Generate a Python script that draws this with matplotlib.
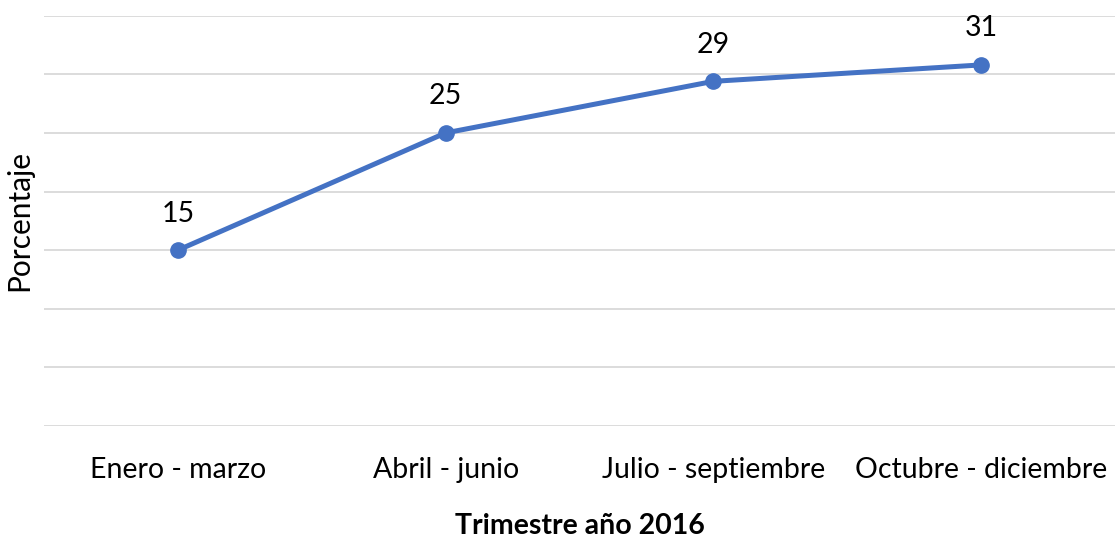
import matplotlib
matplotlib.use("Agg")
import matplotlib.pyplot as plt

# data
trimestres = ["Enero - marzo", "Abril - junio", "Julio - septiembre", "Octubre - diciembre"]
porcentaje = [15, 25, 29.4, 30.8]
y_ticks = [0, 5, 10, 15, 20, 25, 30, 35]

plt.rcParams["font.family"] = ["Lato", "DejaVu Sans"]

fig = plt.figure(figsize=(11.15, 5.37), dpi=100)
ax = fig.add_axes([0.0395, 0.2067, 0.9605, 0.7641])

x = range(len(trimestres))
ax.plot(x, porcentaje, color="#4472C4", linewidth=3.6, marker="o",
        markersize=11, solid_capstyle="round", zorder=3)

for xi, v in zip(x, porcentaje):
    ax.annotate(f"{v:.0f}", (xi, v), xytext=(0, 17), textcoords="offset points",
                ha="center", va="bottom", fontsize=20.5, color="black")

ax.set_xlim(-0.5, len(trimestres) - 0.5)
ax.set_ylim(0, 35)
ax.set_yticks(y_ticks)
ax.set_yticklabels([])
ax.set_xticks(list(x))
ax.set_xticklabels(trimestres, fontsize=20.5)
ax.tick_params(axis="both", length=0)
ax.tick_params(axis="x", pad=22)
ax.grid(axis="y", color="#D9D9D9", linewidth=1.3)
ax.set_axisbelow(True)
for s in ax.spines.values():
    s.set_visible(False)

ax.set_xlabel("Trimestre año 2016", fontsize=20.5, fontweight="bold", labelpad=22)
ax.set_ylabel("Porcentaje", fontsize=21.5, labelpad=4)

fig.savefig("out.png", dpi=100)
